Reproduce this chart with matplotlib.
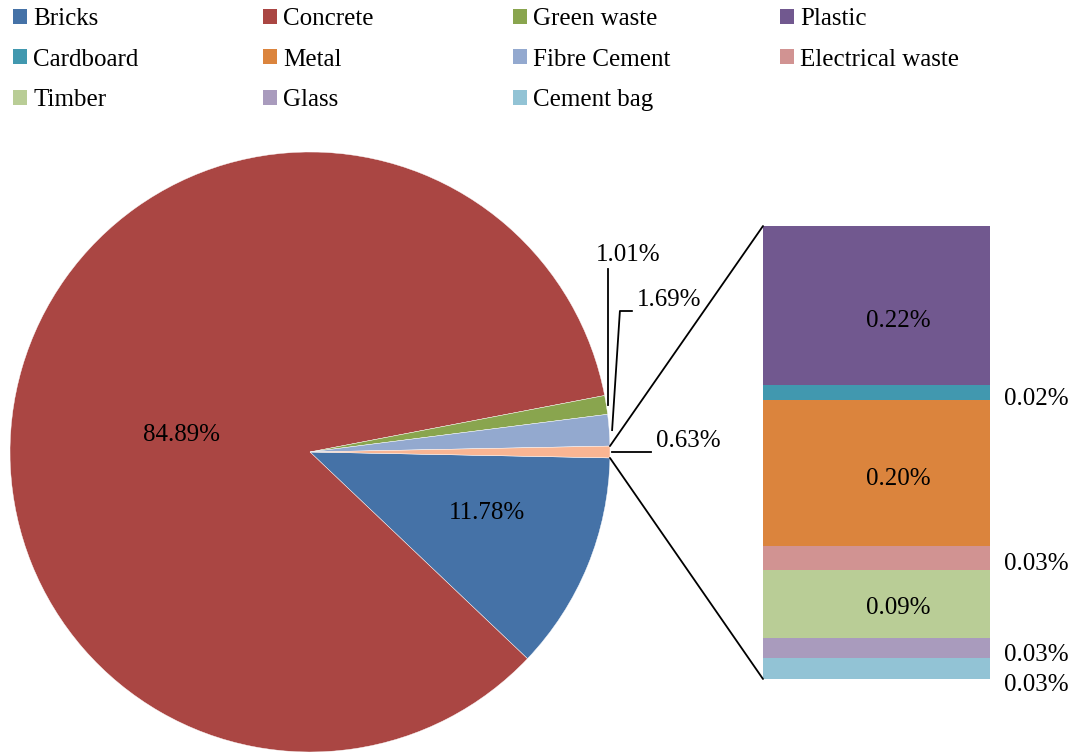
import matplotlib.pyplot as plt
from matplotlib.patches import Patch, ConnectionPatch
import math

plt.rcParams['font.family'] = ['Liberation Serif', 'DejaVu Serif']

# pie (main) data, % of total
pie_labels = ['Bricks', 'Concrete', 'Green waste', 'Fibre Cement', 'Other']
pie_values = [11.78, 84.89, 1.01, 1.69, 0.629]
pie_colors = ['#4572A7', '#AA4643', '#89A54E', '#93A9CF', '#F9B593']

# bar (breakdown of "Other"), bottom to top
bar_labels = ['Cement bag', 'Glass', 'Timber', 'Electrical waste', 'Metal', 'Cardboard', 'Plastic']
bar_values = [0.029, 0.028, 0.094, 0.033, 0.203, 0.021, 0.221]
bar_colors = ['#92C3D5', '#A99BBD', '#B9CD96', '#D19392', '#DB843D', '#4198AF', '#71588F']

# legend order (row by row as in the original)
legend_rows = [['Bricks', 'Concrete', 'Green waste', 'Plastic'],
               ['Cardboard', 'Metal', 'Fibre Cement', 'Electrical waste'],
               ['Timber', 'Glass', 'Cement bag']]

W, H = 1082, 755
fig = plt.figure(figsize=(W / 100, H / 100), dpi=100)

def px_axes(x0, y0, x1, y1):
    return fig.add_axes([x0 / W, 1 - y1 / H, (x1 - x0) / W, (y1 - y0) / H])

# ---- pie ----
ax = px_axes(10, 152, 610, 752)
half = 360 * pie_values[-1] / 100 / 2
wedges, _ = ax.pie(pie_values, colors=pie_colors, startangle=-half,
                   counterclock=False, radius=1,
                   wedgeprops=dict(linewidth=0.3, edgecolor='white'))
ax.set_xlim(-1, 1)
ax.set_ylim(-1, 1)
ax.set_aspect('equal')
ax.axis('off')

fs = 18
ax.text(-0.427, 0.057, f'{pie_values[1]:.2f}%', fontsize=fs, ha='center', va='center')
ax.text(0.59, -0.203, f'{pie_values[0]:.2f}%', fontsize=fs, ha='center', va='center')

# leader lines + outside labels
ax.plot([0.993, 0.993], [0.157, 0.61], color='black', lw=1.3, clip_on=False)
ax.text(1.06, 0.655, f'{pie_values[2]:.2f}%', fontsize=fs, ha='center', va='center')
ax.plot([1.007, 1.033, 1.073], [0.073, 0.47, 0.47], color='black', lw=1.3, clip_on=False)
ax.text(1.09, 0.505, f'{pie_values[3]:.2f}%', fontsize=fs, ha='left', va='center')
ax.plot([1.007, 1.137], [0.0, 0.0], color='black', lw=1.3, clip_on=False)
ax.text(1.153, 0.035, f'{pie_values[4]:.2f}%', fontsize=fs, ha='left', va='center')

# ---- bar ----
bx = px_axes(763, 226, 990, 679)
total = sum(bar_values)
bottom = 0
centers = []
for v, c in zip(bar_values, bar_colors):
    bx.bar(0.5, v, width=1, bottom=bottom, color=c, edgecolor='none')
    centers.append(bottom + v / 2)
    bottom += v
bx.set_xlim(0, 1)
bx.set_ylim(0, total)
bx.axis('off')

# label offsets in pixels (down positive), inside flags
label_dy = [16, 7, 4, 6, 6, 6, 15]
inside = [False, False, True, False, True, False, True]
for v, yc, dy, ins in zip(bar_values, centers, label_dy, inside):
    if ins:
        bx.annotate(f'{v:.2f}%', (0.595, yc), xytext=(0, -dy * 0.72),
                    textcoords='offset points', fontsize=fs, ha='center', va='center')
    else:
        bx.annotate(f'{v:.2f}%', (1.06, yc), xytext=(0, -dy * 0.72),
                    textcoords='offset points', fontsize=fs, ha='left', va='center',
                    annotation_clip=False)

# connector lines
a = math.radians(half)
for sgn, yb in [(1, total), (-1, 0)]:
    con = ConnectionPatch(xyA=(math.cos(a), sgn * math.sin(a)), coordsA=ax.transData,
                          xyB=(0, yb), coordsB=bx.transData, color='black', lw=1.3)
    fig.add_artist(con)

# ---- legend, one column at a time ----
color_of = dict(zip(pie_labels + bar_labels, pie_colors + bar_colors))
col_x = [13, 263, 513, 780]
for ci, x in enumerate(col_x):
    names = [row[ci] for row in legend_rows if ci < len(row)]
    handles = [Patch(facecolor=color_of[n], edgecolor='none') for n in names]
    fig.legend(handles, names, loc='upper left', bbox_to_anchor=(x / W, 1 - 8 / H),
               frameon=False, fontsize=fs, borderpad=0, borderaxespad=0,
               handlelength=0.55, handleheight=0.55, handletextpad=0.25,
               labelspacing=0.74)

fig.savefig('out.png', dpi=100)
